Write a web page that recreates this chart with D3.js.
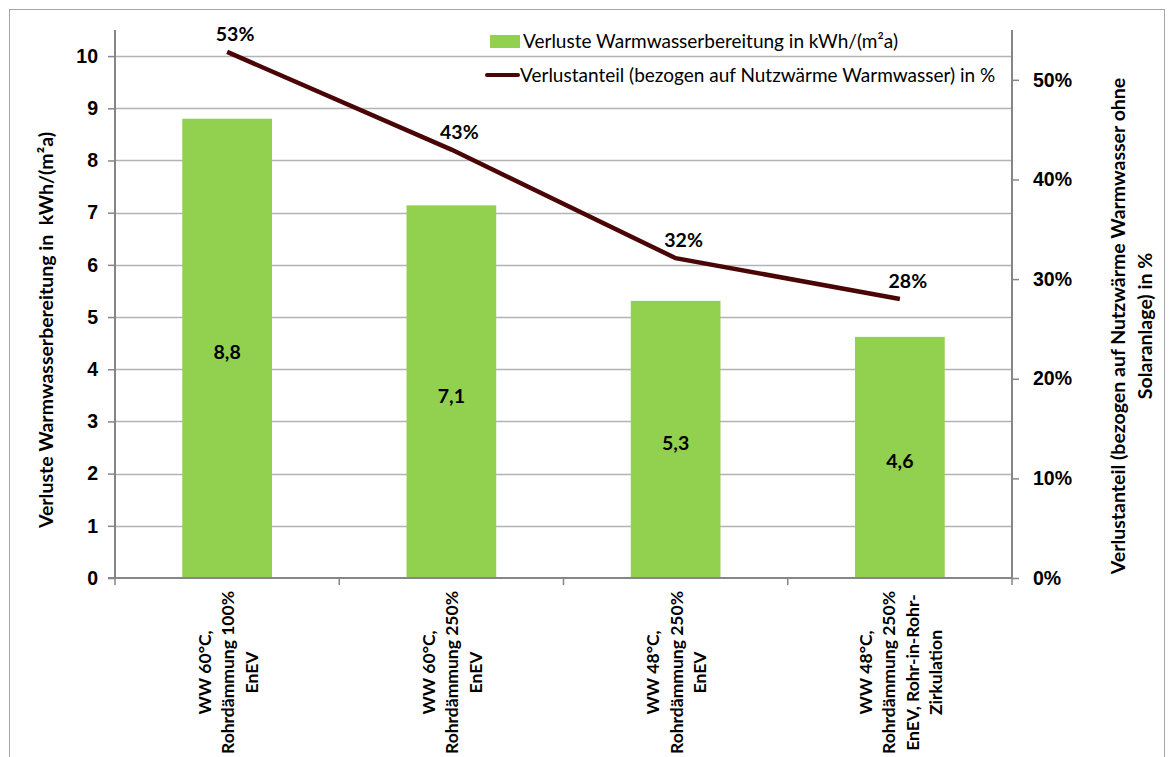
<!DOCTYPE html>
<html lang="de">
<head>
    <meta charset="UTF-8">
    <title>Verluste Warmwasserbereitung</title>
    <script src="https://cdn.jsdelivr.net/npm/d3@7"></script>
    <style>
        body{ margin:0; background:#fff; }
        svg{ font-family: Lato, "Open Sans", sans-serif; }
        .tick text{ font-size:19.5px; font-weight:bold; fill:#000; }
        .lbl{ font-size:19.5px; font-weight:bold; fill:#000; }
        .xl{ font-size:17.5px; font-weight:bold; fill:#000; }
        .ttl{ font-size:19.5px; font-weight:bold; fill:#000; }
        .leg{ font-size:19px; fill:#000; }
    </style>
</head>
<body>
<svg width="1170" height="757"></svg>
<script>
    // values
    const categories = [
        ["WW 60°C,", "Rohrdämmung 100%", "EnEV"],
        ["WW 60°C,", "Rohrdämmung 250%", "EnEV"],
        ["WW 48°C,", "Rohrdämmung 250%", "EnEV"],
        ["WW 48°C,", "Rohrdämmung 250%", "EnEV, Rohr-in-Rohr-", "Zirkulation"]
    ];
    const verluste = [8.8, 7.14, 5.31, 4.62];        // kWh/(m²a)
    const verlusteLabels = ["8,8", "7,1", "5,3", "4,6"];
    const anteil = [0.528, 0.43, 0.321, 0.28];        // share
    const anteilLabels = ["53%", "43%", "32%", "28%"];
    const leftTicks = [0,1,2,3,4,5,6,7,8,9,10];
    const rightTicks = [0,0.1,0.2,0.3,0.4,0.5];

    const svg = d3.select("svg");
    const m = {left:115, right:1012, top:30, bottom:578};

    // outer frame
    svg.append("rect").attr("x",9.5).attr("y",9.5).attr("width",1155).attr("height",760)
        .attr("fill","none").attr("stroke","#a6a6a6");

    const x = d3.scaleBand().domain(d3.range(categories.length)).range([m.left,m.right]).paddingInner(0).paddingOuter(0);
    const y = d3.scaleLinear().domain([0,10.5]).range([m.bottom,m.top]);
    const y2 = d3.scaleLinear().domain([0,0.55]).range([m.bottom,m.top]);

    // gridlines
    svg.append("g").selectAll("line").data(leftTicks.slice(1)).enter().append("line")
        .attr("x1",m.left).attr("x2",m.right)
        .attr("y1",d=>Math.round(y(d))+0.5).attr("y2",d=>Math.round(y(d))+0.5)
        .attr("stroke","#b3b3b3").attr("stroke-width",1.5);

    // bars
    const barW = x.bandwidth()*0.4;
    svg.append("g").selectAll("rect").data(verluste).enter().append("rect")
        .attr("x",(d,i)=>x(i)+x.bandwidth()/2-barW/2)
        .attr("width",barW)
        .attr("y",d=>y(d))
        .attr("height",d=>y(0)-y(d))
        .attr("fill","#92d050");

    svg.append("g").selectAll("text").data(verluste).enter().append("text")
        .attr("class","lbl")
        .attr("x",(d,i)=>x(i)+x.bandwidth()/2)
        .attr("y",d=>(y(d)+y(0))/2+11)
        .attr("text-anchor","middle")
        .text((d,i)=>verlusteLabels[i]);

    // left axis
    const yAxis = svg.append("g").attr("transform",`translate(${m.left},0)`)
        .call(d3.axisLeft(y).tickValues(leftTicks).tickSize(7).tickPadding(10).tickFormat(d3.format("d")));
    yAxis.select(".domain").attr("stroke","#868686").attr("stroke-width",2).attr("d",`M0,${m.top}V${m.bottom}`);
    yAxis.selectAll(".tick line").attr("stroke","#868686").attr("stroke-width",1.5);

    // right axis
    const y2Axis = svg.append("g").attr("transform",`translate(${m.right},0)`)
        .call(d3.axisRight(y2).tickValues(rightTicks).tickSize(7).tickPadding(14).tickFormat(d3.format(".0%")));
    y2Axis.select(".domain").attr("stroke","#868686").attr("stroke-width",2).attr("d",`M0,${m.top}V${m.bottom}`);
    y2Axis.selectAll(".tick line").attr("stroke","#868686").attr("stroke-width",1.5);
    svg.selectAll(".tick text").attr("font-family",null).attr("font-size",null);

    // bottom axis
    svg.append("line").attr("x1",m.left-7).attr("x2",m.right).attr("y1",m.bottom).attr("y2",m.bottom)
        .attr("stroke","#868686").attr("stroke-width",2);
    svg.append("g").selectAll("line").data(d3.range(categories.length+1)).enter().append("line")
        .attr("x1",d=>m.left+d*x.bandwidth()).attr("x2",d=>m.left+d*x.bandwidth())
        .attr("y1",m.bottom).attr("y2",m.bottom+7)
        .attr("stroke","#868686").attr("stroke-width",1.5);

    // category labels, rotated, lines centred
    const lineGap = 23.5;
    categories.forEach((lines,i)=>{
        const cx = x(i)+x.bandwidth()/2;
        const g = svg.append("g");
        const t = g.append("text").attr("class","xl").attr("text-anchor","middle");
        lines.forEach((s,j)=>{
            t.append("tspan").attr("x",0).attr("y",(j-(lines.length-1)/2)*lineGap+7).text(s);
        });
        let maxLen = 0;
        t.selectAll("tspan").each(function(){ maxLen = Math.max(maxLen,this.getComputedTextLength()); });
        g.attr("transform",`translate(${cx},${m.bottom+13+maxLen/2}) rotate(-90)`);
    });

    // line series
    const line = d3.line().x((d,i)=>x(i)+x.bandwidth()/2).y(d=>y2(d));
    svg.append("path").datum(anteil).attr("d",line)
        .attr("fill","none").attr("stroke","#4a0506").attr("stroke-width",4.5);

    svg.append("g").selectAll("text").data(anteil).enter().append("text")
        .attr("class","lbl")
        .attr("x",(d,i)=>x(i)+x.bandwidth()/2+8)
        .attr("y",d=>y2(d)-11)
        .attr("text-anchor","middle")
        .text((d,i)=>anteilLabels[i]);

    // axis titles
    svg.append("text").attr("class","ttl").attr("text-anchor","middle")
        .attr("xml:space","preserve")
        .attr("transform",`translate(53,${(m.top+m.bottom)/2+26}) rotate(-90)`)
        .text("Verluste Warmwasserbereitung in  kWh/(m²a)");
    const rt = svg.append("text").attr("class","ttl").attr("text-anchor","middle")
        .attr("transform",`translate(1125,${(m.top+m.bottom)/2+22}) rotate(-90)`);
    rt.append("tspan").attr("x",0).attr("y",0).text("Verlustanteil (bezogen auf Nutzwärme Warmwasser ohne");
    rt.append("tspan").attr("x",0).attr("y",27).text("Solaranlage) in %");

    // legend
    const leg = svg.append("g");
    leg.append("rect").attr("x",490).attr("y",35).attr("width",30).attr("height",13).attr("fill","#92d050");
    leg.append("text").attr("class","leg").attr("x",523).attr("y",48).text("Verluste Warmwasserbereitung in kWh/(m²a)");
    leg.append("line").attr("x1",487).attr("x2",518).attr("y1",75).attr("y2",75)
        .attr("stroke","#4a0506").attr("stroke-width",4).attr("stroke-linecap","round");
    leg.append("text").attr("class","leg").attr("x",520).attr("y",82).text("Verlustanteil (bezogen auf Nutzwärme Warmwasser) in %");
</script>
</body>
</html>
